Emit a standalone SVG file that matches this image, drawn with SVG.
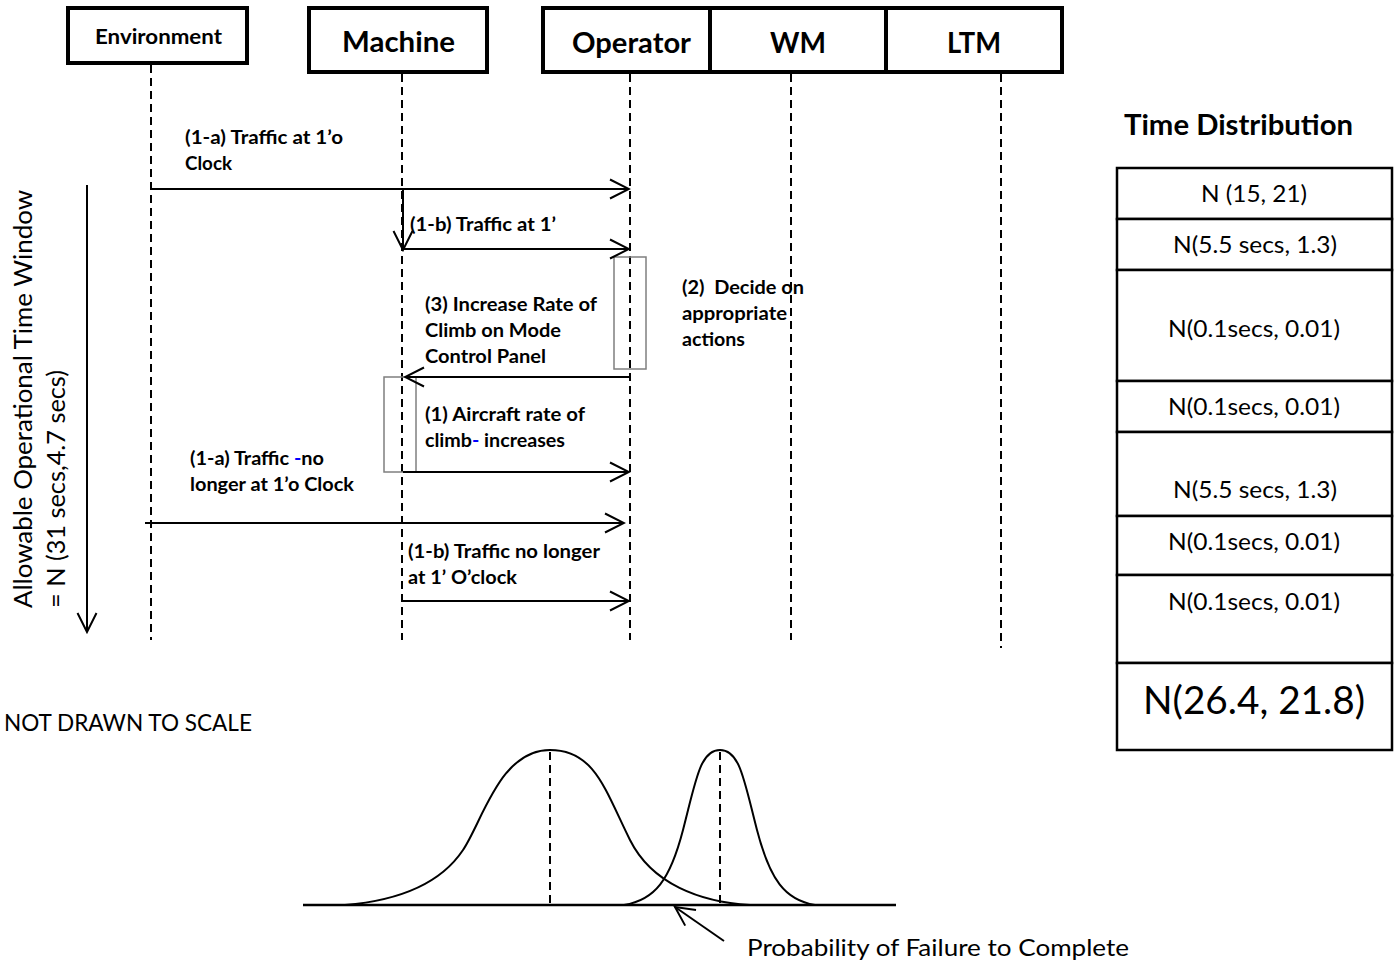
<svg xmlns="http://www.w3.org/2000/svg" width="1394" height="964" viewBox="0 0 1394 964">
  <style>
    .hdr { fill: #fff; stroke: #000; stroke-width: 4; }
    .hl { font-family: Lato, "Liberation Sans", sans-serif; font-weight: bold; fill: #000; }
    .lbl { font-family: Lato, "Liberation Sans", sans-serif; font-weight: bold; font-size: 19.5px; fill: #000; }
    .reg { font-family: Lato, "Liberation Sans", sans-serif; fill: #000; }
    .life { stroke: #000; stroke-width: 2; stroke-dasharray: 8 5; fill: none; }
    .msg { stroke: #000; stroke-width: 2; fill: none; marker-end: url(#open); }
    .act { fill: none; stroke: #7f7f7f; stroke-width: 1.5; }
    .cell { fill: #fff; stroke: #000; stroke-width: 2.5; }
    .curve { fill: none; stroke: #000; stroke-width: 2; }
    .blue { fill: #0000ff; }
  </style>
  <defs>
    <marker id="open" markerUnits="userSpaceOnUse" viewBox="-21 -11 23 22" refX="0" refY="0" markerWidth="23" markerHeight="22" orient="auto">
      <path d="M-19,-9.5 L0,0 L-19,9.5" fill="none" stroke="#000" stroke-width="2"/>
    </marker>
  </defs>

  <rect width="1394" height="964" fill="#fff"/>

  <!-- lifelines -->
  <g id="lifelines">
    <line class="life" x1="151" y1="65" x2="151" y2="640"/>
    <line class="life" x1="402" y1="74" x2="402" y2="640"/>
    <line class="life" x1="630" y1="74" x2="630" y2="640"/>
    <line class="life" x1="791" y1="74" x2="791" y2="640"/>
    <line class="life" x1="1001" y1="74" x2="1001" y2="648"/>
  </g>

  <!-- participants -->
  <g id="environment">
    <rect class="hdr" x="68" y="8" width="179" height="55"/>
    <text class="hl" x="95" y="44" font-size="21" textLength="127" lengthAdjust="spacingAndGlyphs">Environment</text>
  </g>
  <g id="machine">
    <rect class="hdr" x="309" y="8" width="178" height="64"/>
    <text class="hl" x="342" y="52" font-size="28" textLength="113" lengthAdjust="spacingAndGlyphs">Machine</text>
  </g>
  <g id="operator">
    <rect class="hdr" x="543" y="8" width="167" height="64"/>
    <text class="hl" x="572" y="53" font-size="28" textLength="119" lengthAdjust="spacingAndGlyphs">Operator</text>
  </g>
  <g id="wm">
    <rect class="hdr" x="710" y="8" width="176" height="64"/>
    <text class="hl" x="770" y="53" font-size="28" textLength="56" lengthAdjust="spacingAndGlyphs">WM</text>
  </g>
  <g id="ltm">
    <rect class="hdr" x="886" y="8" width="176" height="64"/>
    <text class="hl" x="947" y="53" font-size="28" textLength="54" lengthAdjust="spacingAndGlyphs">LTM</text>
  </g>

  <!-- activation bars -->
  <g id="activations">
    <rect class="act" x="614" y="257" width="32" height="112"/>
    <rect class="act" x="384" y="377" width="32" height="95"/>
  </g>

  <!-- messages -->
  <g id="connectors">
    <line class="msg" x1="151" y1="189" x2="629" y2="189"/>
    <line class="msg" x1="403" y1="189" x2="403" y2="250"/>
    <line class="msg" x1="403" y1="249" x2="629" y2="249"/>
    <line class="msg" x1="630" y1="377" x2="405" y2="377"/>
    <line class="msg" x1="403" y1="472" x2="629" y2="472"/>
    <line class="msg" x1="145" y1="523" x2="624" y2="523"/>
    <line class="msg" x1="403" y1="601" x2="629" y2="601"/>
    <line class="msg" x1="87" y1="185" x2="87" y2="632"/>
  </g>

  <!-- message labels -->
  <g id="labels">
    <text class="lbl" x="185" y="144" textLength="158" lengthAdjust="spacingAndGlyphs">(1-a) Traffic at 1’o</text>
    <text class="lbl" x="185" y="170" textLength="47" lengthAdjust="spacingAndGlyphs">Clock</text>
    <text class="lbl" x="410" y="231" textLength="146" lengthAdjust="spacingAndGlyphs">(1-b) Traffic at 1’</text>
    <text class="lbl" x="682" y="294" textLength="122" lengthAdjust="spacingAndGlyphs" xml:space="preserve">(2)  Decide on</text>
    <text class="lbl" x="682" y="320" textLength="105" lengthAdjust="spacingAndGlyphs">appropriate</text>
    <text class="lbl" x="682" y="346" textLength="63" lengthAdjust="spacingAndGlyphs">actions</text>
    <text class="lbl" x="425" y="311" textLength="172" lengthAdjust="spacingAndGlyphs">(3) Increase Rate of</text>
    <text class="lbl" x="425" y="337" textLength="136" lengthAdjust="spacingAndGlyphs">Climb on Mode</text>
    <text class="lbl" x="425" y="363" textLength="121" lengthAdjust="spacingAndGlyphs">Control Panel</text>
    <text class="lbl" x="425" y="421" textLength="160" lengthAdjust="spacingAndGlyphs">(1) Aircraft rate of</text>
    <text class="lbl" x="425" y="447" textLength="140" lengthAdjust="spacingAndGlyphs">climb<tspan class="blue">-</tspan> increases</text>
    <text class="lbl" x="190" y="465" textLength="134" lengthAdjust="spacingAndGlyphs">(1-a) Traffic <tspan class="blue">-</tspan>no</text>
    <text class="lbl" x="190" y="491" textLength="164" lengthAdjust="spacingAndGlyphs">longer at 1’o Clock</text>
    <text class="lbl" x="408" y="558" textLength="192" lengthAdjust="spacingAndGlyphs">(1-b) Traffic no longer</text>
    <text class="lbl" x="408" y="584" textLength="109" lengthAdjust="spacingAndGlyphs">at 1’ O’clock</text>
  </g>

  <!-- time window label -->
  <g id="time-window">
    <text class="reg" font-size="25" transform="translate(32,608) rotate(-90)" textLength="418" lengthAdjust="spacingAndGlyphs">Allowable Operational Time Window</text>
    <text class="reg" font-size="25" transform="translate(65,608) rotate(-90)" textLength="238" lengthAdjust="spacingAndGlyphs">= N (31 secs,4.7 secs)</text>
  </g>

  <text class="reg" x="4" y="731" font-size="24" textLength="248" lengthAdjust="spacingAndGlyphs">NOT DRAWN TO SCALE</text>

  <!-- time distribution table -->
  <g id="time-distribution">
    <text class="hl" x="1124" y="135" font-size="29" textLength="229" lengthAdjust="spacingAndGlyphs">Time Distribution</text>
    <rect class="cell" x="1117" y="168" width="275" height="51"/>
    <rect class="cell" x="1117" y="219" width="275" height="51"/>
    <rect class="cell" x="1117" y="270" width="275" height="111"/>
    <rect class="cell" x="1117" y="381" width="275" height="51"/>
    <rect class="cell" x="1117" y="432" width="275" height="84"/>
    <rect class="cell" x="1117" y="516" width="275" height="59"/>
    <rect class="cell" x="1117" y="575" width="275" height="88"/>
    <rect class="cell" x="1117" y="663" width="275" height="87"/>
    <text class="reg" x="1201" y="202" font-size="23.5" textLength="106" lengthAdjust="spacingAndGlyphs">N (15, 21)</text>
    <text class="reg" x="1173" y="253" font-size="23.5" textLength="164" lengthAdjust="spacingAndGlyphs">N(5.5 secs, 1.3)</text>
    <text class="reg" x="1168" y="337" font-size="23.5" textLength="172" lengthAdjust="spacingAndGlyphs">N(0.1secs, 0.01)</text>
    <text class="reg" x="1168" y="415" font-size="23.5" textLength="172" lengthAdjust="spacingAndGlyphs">N(0.1secs, 0.01)</text>
    <text class="reg" x="1173" y="498" font-size="23.5" textLength="164" lengthAdjust="spacingAndGlyphs">N(5.5 secs, 1.3)</text>
    <text class="reg" x="1168" y="550" font-size="23.5" textLength="172" lengthAdjust="spacingAndGlyphs">N(0.1secs, 0.01)</text>
    <text class="reg" x="1168" y="610" font-size="23.5" textLength="172" lengthAdjust="spacingAndGlyphs">N(0.1secs, 0.01)</text>
    <text class="reg" x="1143" y="714" font-size="38" textLength="222" lengthAdjust="spacingAndGlyphs">N(26.4, 21.8)</text>
  </g>

  <!-- overlapping distributions -->
  <g id="distributions">
    <line x1="303" y1="905" x2="896" y2="905" stroke="#000" stroke-width="2.5"/>
    <path class="curve" d="M345,905 C405,900 443,880 463,850 C483,820 500,750 550,750 C595,750 605,790 630,840 C652,884 700,902 750,905"/>
    <path class="curve" d="M624,905 C655,900 670,880 683,830 C696,780 700,750 720,750 C740,750 744,780 757,830 C770,880 785,900 815,905"/>
    <line class="life" x1="550" y1="752" x2="550" y2="905"/>
    <line class="life" x1="720" y1="752" x2="720" y2="905"/>
    <line class="msg" x1="724" y1="941" x2="675" y2="907"/>
    <text class="reg" x="747" y="956" font-size="24" textLength="382" lengthAdjust="spacingAndGlyphs">Probability of Failure to Complete</text>
  </g>
</svg>
